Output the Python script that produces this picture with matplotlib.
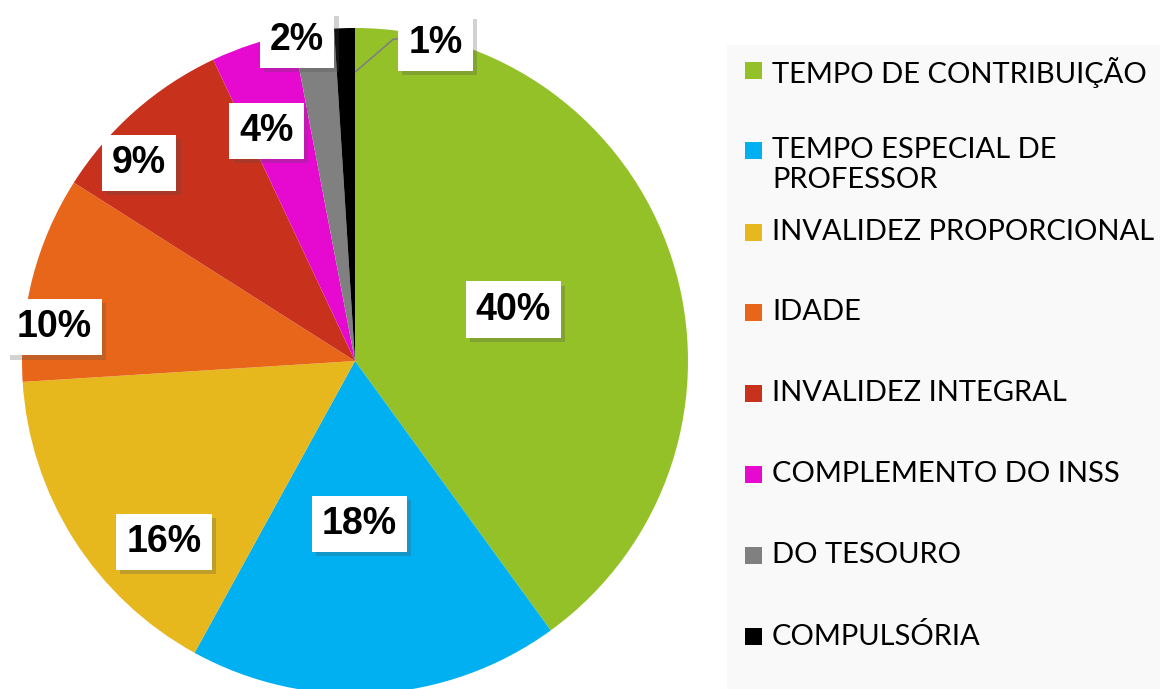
import matplotlib.pyplot as plt
import matplotlib.patheffects as pe
from matplotlib.patches import Rectangle
import numpy as np

# data
categories = ["TEMPO DE CONTRIBUIÇÃO", "TEMPO ESPECIAL DE\nPROFESSOR", "INVALIDEZ PROPORCIONAL",
              "IDADE", "INVALIDEZ INTEGRAL", "COMPLEMENTO DO INSS", "DO TESOURO", "COMPULSÓRIA"]
values = [40, 18, 16, 10, 9, 4, 2, 1]
colors = ["#93C127", "#00B0F0", "#E6B81E", "#E8661A", "#C8311C", "#E60AD0", "#808080", "#000000"]

# label placement tweaks (radius fraction, angle offset in degrees)
label_r = [0.50, 0.49, 0.79, 0.91, 0.88, 0.74, 0.98, 0.985]
label_da = [0, -2, 11, 8, 6, 3, 3, -16]

W, H = 1160, 689
fig = plt.figure(figsize=(11.6, 6.89), dpi=100)
fig.patch.set_facecolor("white")
ax = fig.add_axes([0, 0, 1, 1])

# legend panel background
ax.add_patch(Rectangle((727, 0), W - 727, H - 45, facecolor="#f9f9f9", edgecolor="none", zorder=0))

cx, cy, R = 355, H - 361, 333
wedges, _ = ax.pie(values, colors=colors, startangle=90, counterclock=False,
                   center=(cx, cy), radius=R, frame=True,
                   wedgeprops=dict(linewidth=0))
ax.set_xlim(0, W)
ax.set_ylim(0, H)
ax.set_aspect("equal")
ax.axis("off")

# percentage labels
total = sum(values)
start = 90.0
for i, v in enumerate(values):
    ang = start - v / total * 360 / 2
    start -= v / total * 360
    a = np.deg2rad(ang + label_da[i])
    x = cx + label_r[i] * R * np.cos(a)
    y = cy + label_r[i] * R * np.sin(a)
    t = ax.text(x, y, f"{v}%", ha="center", va="center", fontsize=27, fontweight="bold",
                family="Liberation Sans", zorder=5,
                bbox=dict(facecolor="white", edgecolor="none", boxstyle="square,pad=0.27"))
    t.get_bbox_patch().set_path_effects([pe.SimplePatchShadow(offset=(3, -3), alpha=0.25), pe.Normal()])
    if i == len(values) - 1:
        # leader line for the smallest slice
        ma = np.deg2rad(ang)
        x0, y0 = cx + 0.87 * R * np.cos(ma) + 10, cy + 0.87 * R * np.sin(ma)
        ax.plot([x0, x - 42, x - 32], [y0, y + 4, y + 4], color="#808080", lw=1.2, zorder=4)

# legend
row_y = [H - 70, H - 150, H - 232, H - 312, H - 393, H - 474, H - 555, H - 636]
for i, lab in enumerate(categories):
    ax.add_patch(Rectangle((745, row_y[i] - 8.5), 17, 17, facecolor=colors[i], edgecolor="none", zorder=3))
    ax.text(772, row_y[i] + 13, lab, ha="left", va="top", fontsize=21, family="Lato",
            linespacing=1.2, zorder=3)

fig.savefig("out.png", dpi=100)
